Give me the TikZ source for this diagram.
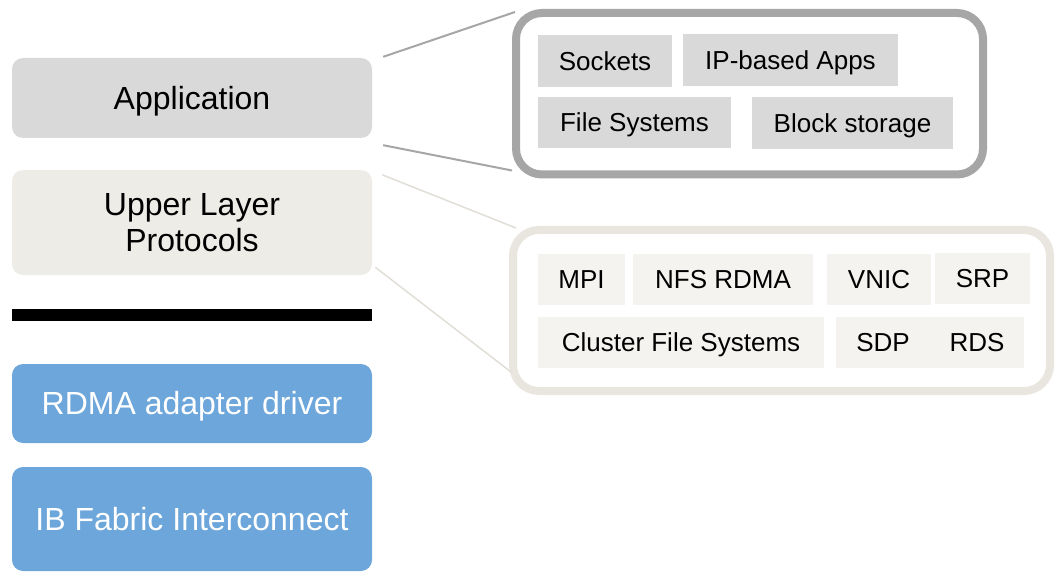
\documentclass[tikz,border=0pt]{standalone}
\usepackage{fontspec}
\setmainfont{Liberation Sans}
\definecolor{appgray}{HTML}{D9D9D9}
\definecolor{tanfill}{HTML}{EEECE6}
\definecolor{tanborder}{HTML}{E8E6DF}
\definecolor{tanlight}{HTML}{F4F3F0}
\definecolor{bluefill}{HTML}{6CA6DA}
\definecolor{grayborder}{HTML}{A6A6A6}
\definecolor{tanline}{HTML}{E0DED6}
\tikzset{
  layer/.style={rectangle, rounded corners=11pt, minimum width=360pt, inner sep=0pt, align=center, text height=22.9pt, text depth=0pt, font=\fontsize{32}{36}\selectfont},
  frame/.style={rectangle, line width=8pt, inner sep=0pt},
  item/.style={rectangle, inner sep=0pt, minimum height=51pt, text height=18.6pt, text depth=0pt, font=\fontsize{26}{31}\selectfont},
  grayitem/.style={item, fill=appgray},
  tanitem/.style={item, fill=tanlight},
}
\begin{document}
\begin{tikzpicture}[x=1pt,y=-1pt]
\useasboundingbox (0,0) rectangle (1055,572);
% left stack
\node[layer, fill=appgray, minimum height=80pt] (app) at (192,98) {Application};
\node[layer, fill=tanfill, minimum height=105pt, text height=58.9pt] (ulp) at (192,222.5) {Upper Layer\\Protocols};
\node[rectangle, fill=black, inner sep=0pt, minimum width=360pt, minimum height=12pt] (bar) at (192,315) {};
\node[layer, fill=bluefill, text=white, minimum height=79pt] (rdma) at (192,403.5) {RDMA adapter driver};
\node[layer, fill=bluefill, text=white, minimum height=104pt] (ib) at (192,519) {IB Fabric Interconnect};
% top right frame
\node[frame, draw=grayborder, rounded corners=26pt, minimum width=467pt, minimum height=161.5pt] (topbox) at (749.5,93.75) {};
\node[grayitem, minimum width=134pt, minimum height=52pt] (sock) at (605,61) {Sockets};
\node[grayitem, minimum width=215pt, minimum height=52pt] (ipapps) at (790.5,60) {IP-based Apps};
\node[grayitem, minimum width=193pt] (fs) at (634.5,122.5) {File Systems};
\node[grayitem, minimum width=201pt, minimum height=52pt] (blk) at (852.5,123) {Block storage};
% bottom right frame
\node[frame, draw=tanborder, rounded corners=26pt, minimum width=537pt, minimum height=161pt] (botbox) at (781.5,310.5) {};
\node[tanitem, minimum width=87pt] (mpi) at (581.5,279.5) {MPI};
\node[tanitem, minimum width=180pt] (nfs) at (723,279.5) {NFS RDMA};
\node[tanitem, minimum width=104pt] (vnic) at (879,279.5) {VNIC};
\node[tanitem, minimum width=95pt] (srp) at (982.5,278.5) {SRP};
\node[tanitem, minimum width=286pt] (cfs) at (681,342.5) {Cluster File Systems};
\node[tanitem, minimum width=94pt] (sdp) at (883,342.5) {SDP};
\node[tanitem, minimum width=94pt] (rds) at (977,342.5) {RDS};
% connectors
\draw[grayborder, line width=2pt] ([xshift=11pt,yshift=1pt]app.north east) -- ([xshift=3pt,yshift=-3pt]topbox.north west);
\draw[grayborder, line width=2pt] ([xshift=11pt,yshift=-7pt]app.south east) -- ([xshift=0pt,yshift=8pt]topbox.south west);
\draw[tanline, line width=1.5pt] ([xshift=10pt,yshift=-5pt]ulp.north east) -- ([xshift=7pt,yshift=-2pt]botbox.north west);
\draw[tanline, line width=1.5pt] ([xshift=3pt,yshift=8pt]ulp.south east) -- ([xshift=2pt,yshift=23pt]botbox.south west);
\end{tikzpicture}
\end{document}
